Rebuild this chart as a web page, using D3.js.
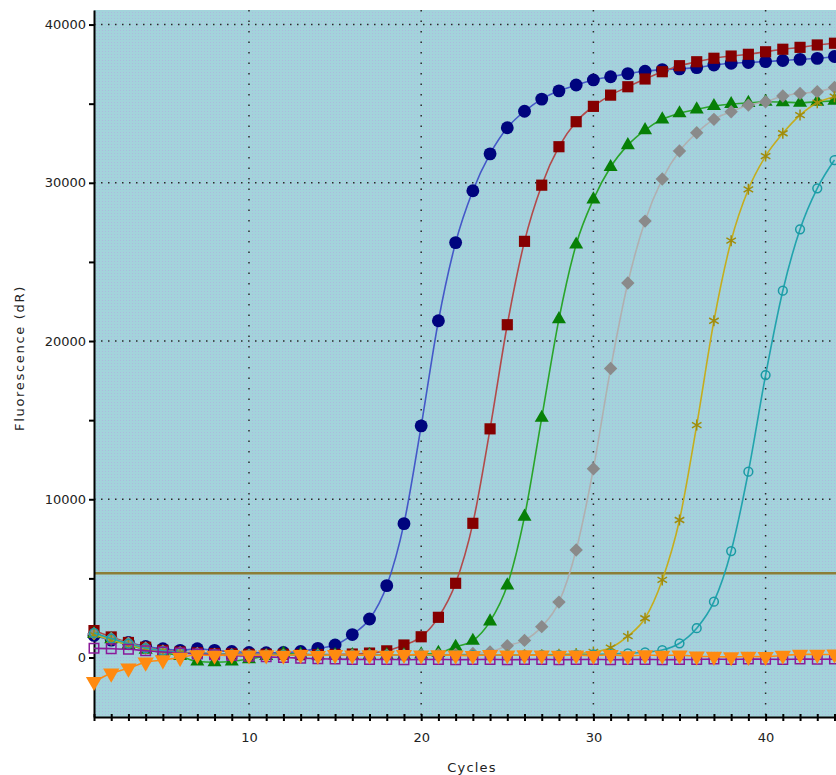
<!DOCTYPE html>
<html lang="en">
<head>
<meta charset="UTF-8">
<title>Amplification Plots</title>
<style>
  body { margin: 0; background: #fff; }
  svg { display: block; font-family: "DejaVu Sans", sans-serif; }
</style>
</head>
<body>
<div id="chart"></div>
<script src="https://d3js.org/d3.v7.min.js"></script>
<script>
const cycles = [1, 2, 3, 4, 5, 6, 7, 8, 9, 10, 11, 12, 13, 14, 15, 16, 17, 18, 19, 20, 21, 22,
                23, 24, 25, 26, 27, 28, 29, 30, 31, 32, 33, 34, 35, 36, 37, 38, 39, 40, 41, 42, 43, 44];

const blueValues = [1400, 1100, 950, 700, 550, 450, 550, 450, 380, 320, 300, 320, 380, 580,
  790, 1450, 2430, 4540, 8460, 14640, 21280, 26220, 29500, 31830, 33480, 34520, 35290, 35810,
  36180, 36500, 36700, 36900, 37050, 37150, 37200, 37280, 37440, 37550, 37600, 37660, 37730,
  37800, 37860, 37980];
const redValues = [1700, 1300, 950, 650, 450, 350, 300, 250, 230, 200, 200, 200, 180, 180, 200,
  220, 280, 420, 790, 1310, 2540, 4690, 8480, 14450, 21030, 26300, 29850, 32280, 33860, 34830,
  35540, 36070, 36560, 37020, 37400, 37650, 37870, 38010, 38120, 38280, 38440, 38560, 38710, 38820];
const greenValues = [1500, 1150, 800, 500, 300, 100, -250, -300, -250, -100, 100, 250, 200, 150,
  150, 150, 150, 150, 150, 200, 300, 680, 1060, 2280, 4560, 8900, 15150, 21380, 26100, 28950,
  31000, 32380, 33330, 34010, 34390, 34640, 34850, 34980, 35050, 35120, 35100, 35060, 35120, 35180];
const grayValues = [1500, 1200, 900, 600, 400, 300, 250, 200, 170, 150, 150, 150, 150, 150, 150,
  150, 150, 150, 160, 170, 180, 200, 250, 350, 750, 1080, 1950, 3500, 6790, 11930, 18260, 23670,
  27580, 30240, 32010, 33160, 34010, 34490, 34910, 35120, 35480, 35650, 35750, 36030];
const yellowValues = [1450, 1100, 800, 550, 400, 300, 250, 200, 180, 160, 150, 150, 150, 150, 150,
  150, 150, 150, 150, 150, 150, 150, 150, 150, 160, 170, 180, 200, 250, 350, 620, 1350, 2480, 4900,
  8690, 14690, 21280, 26340, 29590, 31690, 33130, 34280, 35060, 35440];
const tealValues = [1550, 1200, 880, 600, 420, 320, 260, 220, 200, 180, 170, 160, 150, 150, 150,
  150, 150, 150, 150, 150, 150, 150, 150, 150, 150, 150, 160, 170, 180, 200, 220, 260, 330, 470,
  900, 1850, 3530, 6730, 11740, 17850, 23180, 27060, 29650, 31440];
const purpleValues = [580, 560, 520, 430, 350, 280, 220, 170, 120, 80, 40, 0, -40, -80, -100,
  -120, -130, -120, -140, -130, -120, -140, -130, -120, -140, -130, -120, -140, -130, -120, -140,
  -130, -120, -140, -130, -120, -100, -120, -100, -110, -120, -100, -110, -100];
const orangeValues = [-1530, -1000, -680, -300, -160, 0, 160, 130, 170, 150, 160, 130, 180, 120,
  170, 140, 160, 130, 180, 150, 160, 140, 120, 170, 150, 160, 140, 130, 150, 120, 170, 100, 160,
  130, 150, 80, 60, 40, 60, 50, 130, 200, 190, 210];

const thresholdValue = 5320;
const yTickValues = [0, 5000, 10000, 15000, 20000, 25000, 30000, 35000, 40000];
const yGridValues = [10000, 20000, 30000, 40000];
const xLabelValues = [10, 20, 30, 40];

// styles for each run, drawn in this order
const series = [
  { values: blueValues,   line: '#4458c8', fill: '#00047e', stroke: 'none',    shape: d3.symbolCircle,   size: 130, rotate: 0 },
  { values: redValues,    line: '#b24a4a', fill: '#850000', stroke: 'none',    shape: d3.symbolSquare,   size: 125, rotate: 0 },
  { values: greenValues,  line: '#2aa52a', fill: '#078007', stroke: 'none',    shape: d3.symbolTriangle, size: 85,  rotate: 0 },
  { values: grayValues,   line: '#b0b0b0', fill: '#8a8a8a', stroke: 'none',    shape: d3.symbolSquare,   size: 90,  rotate: 45 },
  { values: yellowValues, line: '#c4ad1e', fill: 'none',    stroke: '#a08c0c', shape: d3.symbolAsterisk, size: 85,  rotate: 0 },
  { values: tealValues,   line: '#22a3ad', fill: 'none',    stroke: '#1a9aa4', shape: d3.symbolCircle,   size: 60,  rotate: 0 },
  { values: purpleValues, line: '#8a1a9a', fill: 'none',    stroke: '#8a1a9a', shape: d3.symbolSquare,   size: 90,  rotate: 0 },
  { values: orangeValues, line: '#ff8a10', fill: '#ff8a10', stroke: 'none',    shape: d3.symbolTriangle, size: 115, rotate: 180 }
];

const width = 836, height = 775;
const plot = { left: 94, top: 10, bottom: 717 };

const svg = d3.select('#chart').append('svg')
  .attr('width', width)
  .attr('height', height);

const x = d3.scaleLinear().domain([1, 45]).range([94, 851.7]);
const y = d3.scaleLinear().domain([-3760, 40920]).range([plot.bottom, plot.top]);

// dotted background
const defs = svg.append('defs');
const pat = defs.append('pattern')
  .attr('id', 'dots')
  .attr('width', 3).attr('height', 3)
  .attr('patternUnits', 'userSpaceOnUse');
pat.append('rect').attr('width', 3).attr('height', 3).attr('fill', '#a3d3db');
pat.append('rect').attr('width', 1).attr('height', 1).attr('fill', '#adb9de');

svg.append('rect')
  .attr('x', plot.left).attr('y', plot.top)
  .attr('width', width - plot.left).attr('height', plot.bottom - plot.top)
  .attr('fill', 'url(#dots)');

// grid
svg.append('g')
  .selectAll('line')
  .data(yGridValues)
  .join('line')
  .attr('x1', plot.left).attr('x2', width)
  .attr('y1', d => y(d)).attr('y2', d => y(d))
  .attr('stroke', '#2a2a2a')
  .attr('stroke-width', 1.5)
  .attr('stroke-dasharray', '1.5,5.5');

svg.append('g')
  .selectAll('line')
  .data(xLabelValues)
  .join('line')
  .attr('x1', d => x(d)).attr('x2', d => x(d))
  .attr('y1', plot.top).attr('y2', plot.bottom)
  .attr('stroke', '#2a2a2a')
  .attr('stroke-width', 1.5)
  .attr('stroke-dasharray', '1.5,9');

// threshold
svg.append('line')
  .attr('x1', plot.left).attr('x2', width)
  .attr('y1', y(thresholdValue)).attr('y2', y(thresholdValue))
  .attr('stroke', '#8c7d38')
  .attr('stroke-width', 2.5);

// axes
const yAxis = svg.append('g')
  .attr('transform', `translate(${plot.left},0)`)
  .call(d3.axisLeft(y)
    .tickValues(yTickValues)
    .tickFormat(d => d % 10000 === 0 ? d : '')
    .tickSize(5)
    .tickSizeOuter(0)
    .tickPadding(3));
yAxis.select('.domain').attr('stroke', '#000').attr('stroke-width', 2);
yAxis.selectAll('.tick line').attr('stroke', '#000').attr('stroke-width', 2);
yAxis.selectAll('text').attr('font-size', 13).attr('fill', '#222')
  .attr('font-family', '"DejaVu Sans", sans-serif');

const xAxis = svg.append('g')
  .attr('transform', `translate(0,${plot.bottom})`)
  .call(d3.axisBottom(x)
    .tickValues(cycles)
    .tickFormat(d => xLabelValues.includes(d) ? d : '')
    .tickSize(4)
    .tickSizeOuter(0));
xAxis.select('.domain').attr('stroke', '#000').attr('stroke-width', 2);
xAxis.selectAll('.tick line').attr('y1', -3).attr('stroke', '#000').attr('stroke-width', 2);
xAxis.selectAll('text').attr('y', 16).attr('font-size', 13).attr('fill', '#222')
  .attr('font-family', '"DejaVu Sans", sans-serif');

// axis titles
svg.append('text')
  .attr('transform', 'translate(19,358) rotate(-90)')
  .attr('text-anchor', 'middle')
  .attr('dominant-baseline', 'central')
  .attr('font-size', 13)
  .attr('letter-spacing', 1.7)
  .attr('fill', '#222')
  .text('Fluorescence (dR)');

svg.append('text')
  .attr('x', 472).attr('y', 772)
  .attr('text-anchor', 'middle')
  .attr('font-size', 13)
  .attr('letter-spacing', 1.2)
  .attr('fill', '#222')
  .text('Cycles');

// runs
const line = d3.line()
  .x(d => x(d.cycle))
  .y(d => y(d.value))
  .curve(d3.curveMonotoneX);

series.forEach(s => {
  const pts = cycles.map((c, i) => ({ cycle: c, value: s.values[i] }));
  const g = svg.append('g');
  g.append('path')
    .datum(pts)
    .attr('fill', 'none')
    .attr('stroke', s.line)
    .attr('stroke-width', 1.6)
    .attr('d', line);
  g.selectAll('path.m')
    .data(pts)
    .join('path')
    .attr('class', 'm')
    .attr('transform', d => `translate(${x(d.cycle)},${y(d.value)}) rotate(${s.rotate})`)
    .attr('d', d3.symbol().type(s.shape).size(s.size))
    .attr('fill', s.fill)
    .attr('stroke', s.stroke)
    .attr('stroke-width', 1.5);
});
</script>
</body>
</html>
